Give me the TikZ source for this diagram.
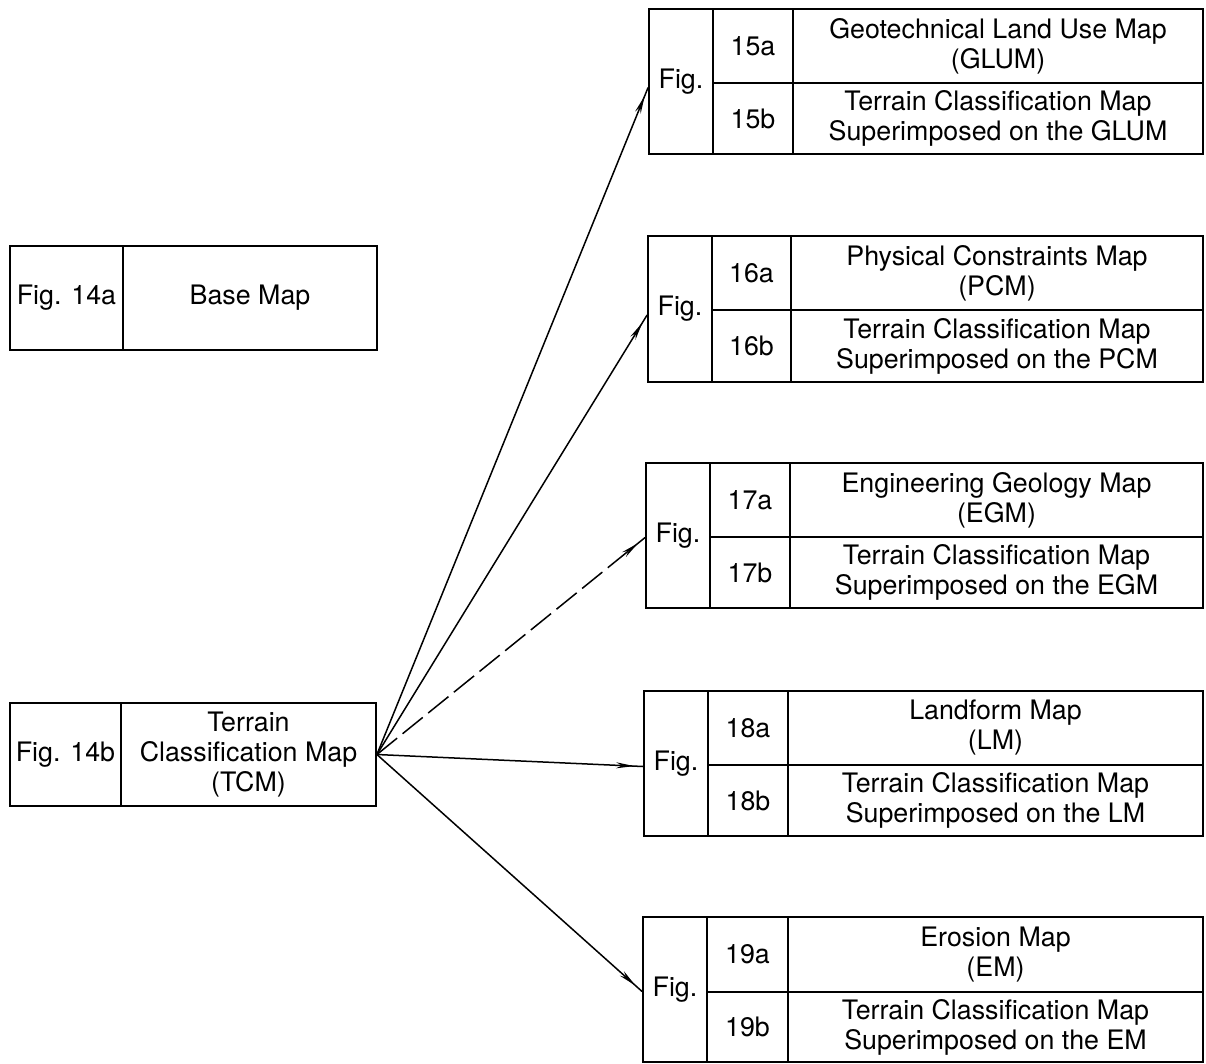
\documentclass[tikz,border=0pt]{standalone}
\usepackage{fontspec}
\setmainfont{TeX Gyre Heros}
\usetikzlibrary{arrows.meta,decorations.markings,calc}
\tikzset{
  cell/.style={draw, line width=1.8pt, rectangle, inner sep=0pt, align=center,
    font=\fontsize{26.8}{30}\selectfont},
  conn/.style={line width=1.5pt, postaction={decorate},
    decoration={markings, mark=at position -9pt with {\arrow{Stealth[length=18pt,width=6pt]}}}},
  dashconn/.style={conn, dash pattern=on 26pt off 7pt}
}
\newcommand{\mycell}[6]{%
  \node[cell, minimum width={#4-#2}, minimum height={#5-#3}] (#1) at ({(#2+#4)/2},{(#3+#5)/2}) {#6};}
\begin{document}
\begin{tikzpicture}[x=1pt,y=-1pt]
\useasboundingbox (0,0) rectangle (1206,1063);
% Base map
\mycell{bfig}{10}{246}{123}{350}{Fig. 14a}
\mycell{bmap}{123}{246}{377}{350}{Base Map}
% TCM
\mycell{tfig}{10}{703}{121}{806}{Fig. 14b}
\mycell{tmap}{121}{703}{376}{806}{Terrain\\Classification Map\\(TCM)}
% Box 15
\mycell{f15}{649}{9}{713}{154}{Fig.}
\mycell{n15a}{713}{9}{793}{83}{15a}
\mycell{n15b}{713}{83}{793}{154}{15b}
\mycell{t15a}{793}{9}{1203}{83}{Geotechnical Land Use Map\\(GLUM)}
\mycell{t15b}{793}{83}{1203}{154}{Terrain Classification Map\\Superimposed on the GLUM}
% Box 16
\mycell{f16}{648}{236}{712}{382}{Fig.}
\mycell{n16a}{712}{236}{791}{310}{16a}
\mycell{n16b}{712}{310}{791}{382}{16b}
\mycell{t16a}{791}{236}{1203}{310}{Physical Constraints Map\\(PCM)}
\mycell{t16b}{791}{310}{1203}{382}{Terrain Classification Map\\Superimposed on the PCM}
% Box 17
\mycell{f17}{646}{463}{710}{608}{Fig.}
\mycell{n17a}{710}{463}{790}{537}{17a}
\mycell{n17b}{710}{537}{790}{608}{17b}
\mycell{t17a}{790}{463}{1203}{537}{Engineering Geology Map\\(EGM)}
\mycell{t17b}{790}{537}{1203}{608}{Terrain Classification Map\\Superimposed on the EGM}
% Box 18
\mycell{f18}{644}{691}{708}{836}{Fig.}
\mycell{n18a}{708}{691}{788}{765}{18a}
\mycell{n18b}{708}{765}{788}{836}{18b}
\mycell{t18a}{788}{691}{1203}{765}{Landform Map\\(LM)}
\mycell{t18b}{788}{765}{1203}{836}{Terrain Classification Map\\Superimposed on the LM}
% Box 19
\mycell{f19}{643}{917}{707}{1062}{Fig.}
\mycell{n19a}{707}{917}{788}{992}{19a}
\mycell{n19b}{707}{992}{788}{1062}{19b}
\mycell{t19a}{788}{917}{1203}{992}{Erosion Map\\(EM)}
\mycell{t19b}{788}{992}{1203}{1062}{Terrain Classification Map\\Superimposed on the EM}
% Connectors
\draw[conn] (tmap.east) -- ([yshift=-6pt]f15.west);
\draw[conn] (tmap.east) -- ([yshift=-6pt]f16.west);
\draw[dashconn] (tmap.east) -- ([yshift=-2pt]f17.west);
\draw[conn] (tmap.east) -- ([yshift=-3pt]f18.west);
\draw[conn] (tmap.east) -- ([yshift=-2pt]f19.west);
\end{tikzpicture}
\end{document}
